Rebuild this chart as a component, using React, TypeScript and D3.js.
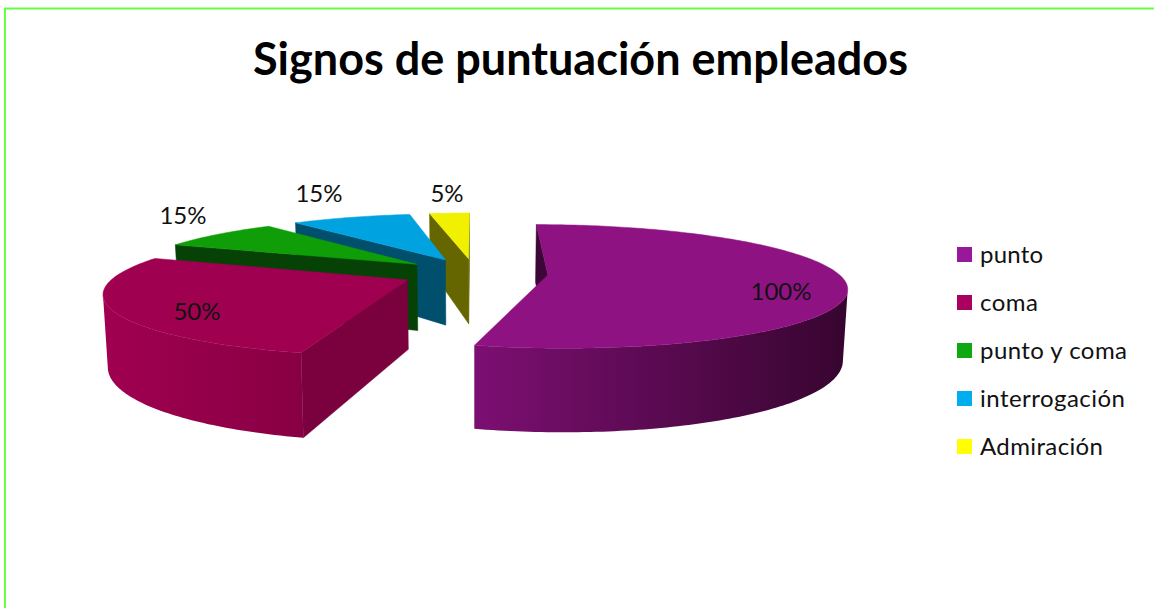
import React from "react";
import * as d3 from "d3";

const title = "Signos de puntuación empleados";
const categories = ["punto", "coma", "punto y coma", "interrogación", "Admiración"];
const values = [100, 50, 15, 15, 5];

const topColors = ["#8f1283", "#a00050", "#109e08", "#00a3e0", "#f0f000"];
const legendColors = ["#98189b", "#aa0060", "#10a810", "#00aeef", "#ffff00"];
const sideLightColors = ["#7c0f72", "#a00050", "#0a5a0a", "#00567a", "#6b6b00"];
const sideDarkColors = ["#37052f", "#880044", "#064206", "#004f6d", "#6b6b00"];
const faceColors = ["#3c0636", "#7a003e", "#064206", "#004f6d", "#666600"];

// Layout of the labels and of the legend
const labelX = [781, 197, 183, 319, 447];
const labelY = [299, 319, 223, 201, 201];
const legendX = 957;
const legendTextX = 980;
const legendY = d3.scaleLinear().domain([0, 1]).range([247, 295]);
const legendWidths = [63, 58, 147, 145, 123];

// Perspective model of the exploded pie
const R = 290;
const EXPLODE = 73.5;
const VX = 474.5;
const CY = 273;
const HEIGHT = 319;
const DIST = 1568;
const THICK = 68;
const TAPER = 0.987;

type P = [number, number];

function project(X: number, Y: number, bottom: boolean): P {
  const s = 1 / (1 + Y / DIST);
  const horizon = CY - HEIGHT;
  return [
    VX + X * s * (bottom ? TAPER : 1),
    horizon + (HEIGHT + (bottom ? THICK : 0)) * s,
  ];
}

const pie = d3.pie<number>().sort(null).startAngle(0).endAngle(2 * Math.PI);
const arcs = pie(values);
const line = d3.line<P>();

interface Slice {
  faces: string[];
  wall: string | null;
  x0: number;
  x1: number;
  top: string;
}

function sliceFaces(i: number): Slice {
  const a = arcs[i];
  const mid = (a.startAngle + a.endAngle) / 2;
  const ox = EXPLODE * Math.sin(mid);
  const oy = EXPLODE * Math.cos(mid);
  const n = Math.max(8, Math.round(((a.endAngle - a.startAngle) * 180) / Math.PI));
  const angles = d3.range(n + 1).map((k) => a.startAngle + ((a.endAngle - a.startAngle) * k) / n);
  const world = (t: number): [number, number] => [ox + R * Math.sin(t), oy + R * Math.cos(t)];
  const faces: string[] = [];

  // Radial cut faces
  const apexTop = project(ox, oy, false);
  const apexBot = project(ox, oy, true);
  const [sx, sy] = world(a.startAngle);
  const startQuad: P[] = [apexTop, project(sx, sy, false), project(sx, sy, true), apexBot];
  if (d3.polygonArea(startQuad) > 0) faces.push(line(startQuad) + "Z");
  const [ex, ey] = world(a.endAngle);
  const endQuad: P[] = [project(ex, ey, false), apexTop, apexBot, project(ex, ey, true)];
  if (d3.polygonArea(endQuad) > 0) faces.push(line(endQuad) + "Z");

  // Outer wall: the part of the rim that faces the viewer
  const upper: P[] = [];
  const lower: P[] = [];
  for (let k = 0; k < n; k++) {
    const [x0, y0] = world(angles[k]);
    const [x1, y1] = world(angles[k + 1]);
    const quad: P[] = [
      project(x0, y0, false),
      project(x0, y0, true),
      project(x1, y1, true),
      project(x1, y1, false),
    ];
    if (d3.polygonArea(quad) < 0) {
      if (!upper.length) {
        upper.push(quad[0]);
        lower.push(quad[1]);
      }
      upper.push(quad[3]);
      lower.push(quad[2]);
    }
  }
  const xs = upper.map((p) => p[0]);
  const wall = upper.length ? line([...upper, ...lower.reverse()]) + "Z" : null;

  const topPts: P[] = [apexTop, ...angles.map((t) => project(...world(t), false))];
  return {
    faces,
    wall,
    x0: (d3.min(xs) as number) ?? 0,
    x1: (d3.max(xs) as number) ?? 1,
    top: line(topPts) + "Z",
  };
}

const drawOrder = [4, 3, 2, 1, 0];

export default function App() {
  const slices = values.map((_, i) => sliceFaces(i));
  return (
    <svg
      width={1154}
      height={608}
      style={{ position: "absolute", left: 0, top: 0, background: "#fff" }}
      fontFamily="Lato, 'Open Sans', sans-serif"
    >
      <defs>
        {slices.map((s, i) => (
          <linearGradient
            key={i}
            id={`wall${i}`}
            gradientUnits="userSpaceOnUse"
            x1={s.x0}
            x2={s.x1}
            y1={0}
            y2={0}
          >
            <stop offset="0" stopColor={sideLightColors[i]} />
            <stop offset="1" stopColor={sideDarkColors[i]} />
          </linearGradient>
        ))}
      </defs>
      <path d="M5,608V8.5H1154" fill="none" stroke="#66ff44" strokeWidth={2} />
      <text
        x={253}
        y={75}
        fontSize={45}
        fontWeight={700}
        fill="#000"
        textLength={655}
        lengthAdjust="spacing"
      >
        {title}
      </text>
      {drawOrder.map((i) => {
        const f = slices[i];
        return (
          <g key={categories[i]}>
            {f.faces.map((d, k) => (
              <path key={k} d={d} fill={faceColors[i]} stroke={faceColors[i]} strokeWidth={0.5} />
            ))}
            {f.wall && <path d={f.wall} fill={`url(#wall${i})`} />}
            <path d={f.top} fill={topColors[i]} stroke={topColors[i]} strokeWidth={0.5} />
          </g>
        );
      })}
      {values.map((v, i) => (
        <text
          key={i}
          x={labelX[i]}
          y={labelY[i] + 1}
          textAnchor="middle"
          fontSize={24}
          fill="#111"
        >
          {`${v}%`}
        </text>
      ))}
      {categories.map((c, i) => (
        <g key={c}>
          <rect x={legendX} y={legendY(i)} width={15} height={15} fill={legendColors[i]} />
          <text
            x={legendTextX}
            y={legendY(i) + 16}
            fontSize={24}
            fill="#111"
            textLength={legendWidths[i]}
            lengthAdjust="spacing"
          >
            {c}
          </text>
        </g>
      ))}
    </svg>
  );
}
